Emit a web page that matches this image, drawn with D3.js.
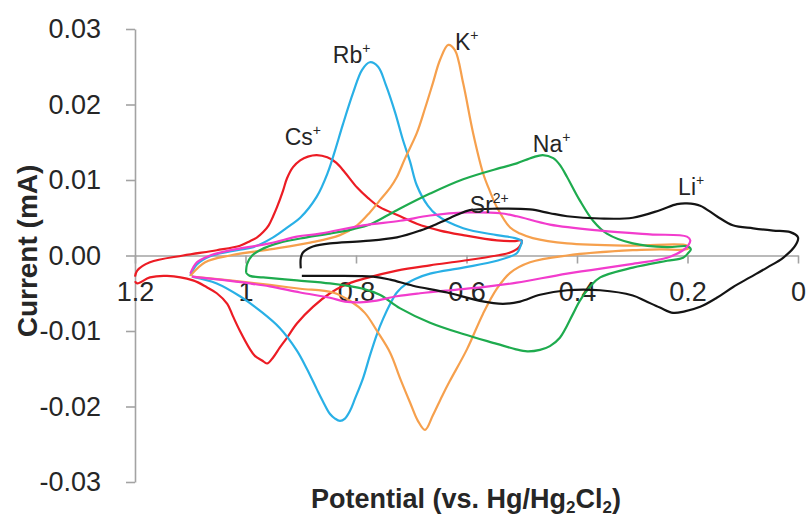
<!DOCTYPE html>
<html>
<head>
<meta charset="utf-8">
<script src="https://cdn.jsdelivr.net/npm/d3@7"></script>
<style>
  html, body { margin: 0; padding: 0; background: #fff; }
  svg { display: block; font-family: "Liberation Sans", Arial, sans-serif; }
</style>
</head>
<body>
<svg id="chart" width="806" height="518"></svg>
<script>
// Cyclic voltammograms, [potential (V vs. Hg/Hg2Cl2), current (mA)] traced around each loop
const cesium = [
  [1.200,-0.0028],[1.196,-0.0020],[1.173,-0.0009],[1.113,0.0000],[1.052,0.0007],[1.010,0.0013],
  [0.992,0.0019],[0.979,0.0024],[0.968,0.0031],[0.958,0.0040],[0.950,0.0052],[0.943,0.0064],
  [0.932,0.0086],[0.925,0.0102],[0.914,0.0117],[0.901,0.0126],[0.887,0.0131],[0.871,0.0133],
  [0.852,0.0130],[0.836,0.0123],[0.820,0.0110],[0.798,0.0090],[0.778,0.0076],[0.757,0.0064],
  [0.720,0.0052],[0.690,0.0042],[0.648,0.0033],[0.606,0.0027],[0.545,0.0020],[0.512,0.0019],
  [0.500,0.0020],[0.505,0.0011],[0.521,0.0004],[0.545,0.0000],[0.606,-0.0007],[0.666,-0.0013],
  [0.726,-0.0020],[0.787,-0.0031],[0.820,-0.0039],[0.847,-0.0050],[0.878,-0.0068],[0.907,-0.0090],
  [0.925,-0.0109],[0.938,-0.0122],[0.950,-0.0135],[0.961,-0.0143],[0.970,-0.0139],[0.983,-0.0133],
  [0.992,-0.0124],[1.010,-0.0100],[1.023,-0.0080],[1.033,-0.0064],[1.052,-0.0050],[1.070,-0.0042],
  [1.095,-0.0033],[1.142,-0.0027],[1.173,-0.0029],[1.196,-0.0037],[1.200,-0.0034]
];
const rubidium = [
  [1.100,-0.0027],[1.088,-0.0012],[1.064,-0.0001],[1.015,0.0007],[0.986,0.0011],[0.950,0.0024],
  [0.919,0.0040],[0.901,0.0050],[0.871,0.0078],[0.851,0.0110],[0.838,0.0139],[0.824,0.0173],
  [0.805,0.0216],[0.789,0.0246],[0.775,0.0256],[0.760,0.0250],[0.746,0.0226],[0.729,0.0189],
  [0.715,0.0153],[0.702,0.0124],[0.690,0.0093],[0.670,0.0066],[0.653,0.0053],[0.606,0.0036],
  [0.545,0.0027],[0.512,0.0023],[0.500,0.0019],[0.503,0.0011],[0.509,0.0003],[0.545,-0.0007],
  [0.606,-0.0016],[0.666,-0.0024],[0.693,-0.0031],[0.708,-0.0037],[0.726,-0.0049],[0.738,-0.0064],
  [0.751,-0.0084],[0.762,-0.0104],[0.775,-0.0133],[0.787,-0.0162],[0.802,-0.0190],[0.811,-0.0206],
  [0.820,-0.0216],[0.829,-0.0219],[0.838,-0.0216],[0.847,-0.0210],[0.860,-0.0193],[0.871,-0.0177],
  [0.889,-0.0150],[0.907,-0.0126],[0.938,-0.0096],[0.974,-0.0073],[1.010,-0.0054],[1.052,-0.0037],
  [1.097,-0.0028]
];
const potassium = [
  [1.100,-0.0027],[1.073,-0.0009],[1.028,0.0000],[0.956,0.0008],[0.883,0.0017],[0.829,0.0027],
  [0.798,0.0040],[0.775,0.0057],[0.757,0.0073],[0.738,0.0090],[0.726,0.0104],[0.711,0.0129],
  [0.690,0.0162],[0.675,0.0195],[0.661,0.0228],[0.648,0.0259],[0.633,0.0279],[0.621,0.0272],
  [0.606,0.0228],[0.588,0.0162],[0.570,0.0109],[0.557,0.0084],[0.545,0.0064],[0.521,0.0037],
  [0.503,0.0029],[0.480,0.0023],[0.418,0.0016],[0.299,0.0013],[0.201,0.0013],[0.199,0.0009],
  [0.250,0.0008],[0.299,0.0007],[0.418,0.0000],[0.485,-0.0009],[0.521,-0.0023],[0.545,-0.0044],
  [0.570,-0.0077],[0.599,-0.0124],[0.630,-0.0166],[0.644,-0.0186],[0.661,-0.0212],[0.675,-0.0231],
  [0.688,-0.0219],[0.702,-0.0195],[0.720,-0.0163],[0.738,-0.0129],[0.762,-0.0100],[0.784,-0.0076],
  [0.811,-0.0060],[0.842,-0.0049],[0.901,-0.0044],[0.956,-0.0039],[1.028,-0.0033],[1.097,-0.0028]
];
const sodium = [
  [0.999,-0.0023],[0.997,-0.0011],[0.988,0.0000],[0.974,0.0007],[0.938,0.0017],[0.889,0.0024],
  [0.847,0.0029],[0.805,0.0035],[0.775,0.0041],[0.726,0.0060],[0.666,0.0082],[0.606,0.0101],
  [0.539,0.0116],[0.509,0.0122],[0.480,0.0130],[0.462,0.0133],[0.443,0.0129],[0.431,0.0120],
  [0.418,0.0104],[0.395,0.0073],[0.371,0.0046],[0.346,0.0029],[0.299,0.0016],[0.237,0.0011],
  [0.199,0.0012],[0.194,0.0008],[0.199,0.0003],[0.208,-0.0003],[0.237,-0.0007],[0.299,-0.0016],
  [0.358,-0.0029],[0.376,-0.0041],[0.395,-0.0060],[0.407,-0.0077],[0.431,-0.0109],[0.449,-0.0120],
  [0.467,-0.0125],[0.490,-0.0127],[0.512,-0.0124],[0.545,-0.0117],[0.606,-0.0104],[0.666,-0.0089],
  [0.720,-0.0070],[0.757,-0.0052],[0.787,-0.0044],[0.847,-0.0037],[0.907,-0.0033],[0.968,-0.0029],
  [0.992,-0.0027],[0.999,-0.0023]
];
const strontium = [
  [1.100,-0.0024],[1.088,-0.0009],[1.064,0.0000],[1.028,0.0007],[0.956,0.0016],[0.907,0.0025],
  [0.865,0.0029],[0.787,0.0040],[0.720,0.0046],[0.666,0.0053],[0.599,0.0057],[0.539,0.0056],
  [0.509,0.0052],[0.449,0.0041],[0.358,0.0033],[0.268,0.0028],[0.201,0.0025],[0.195,0.0020],
  [0.199,0.0013],[0.208,0.0007],[0.237,-0.0003],[0.299,-0.0011],[0.418,-0.0024],[0.509,-0.0036],
  [0.570,-0.0042],[0.630,-0.0046],[0.684,-0.0050],[0.726,-0.0054],[0.766,-0.0060],[0.793,-0.0062],
  [0.820,-0.0061],[0.847,-0.0056],[0.901,-0.0049],[0.956,-0.0041],[0.992,-0.0037],[1.046,-0.0032],
  [1.097,-0.0028]
];
const lithium = [
  [0.900,-0.0017],[0.900,-0.0004],[0.896,0.0004],[0.887,0.0009],[0.878,0.0012],[0.847,0.0016],
  [0.787,0.0019],[0.726,0.0024],[0.684,0.0033],[0.653,0.0042],[0.617,0.0054],[0.594,0.0060],
  [0.545,0.0062],[0.485,0.0061],[0.449,0.0056],[0.418,0.0052],[0.358,0.0049],[0.299,0.0050],
  [0.250,0.0060],[0.219,0.0068],[0.201,0.0069],[0.177,0.0066],[0.147,0.0052],[0.118,0.0040],
  [0.081,0.0036],[0.045,0.0033],[0.014,0.0031],[0.000,0.0024],[0.005,0.0013],[0.027,-0.0003],
  [0.056,-0.0016],[0.087,-0.0029],[0.118,-0.0042],[0.147,-0.0056],[0.177,-0.0068],[0.205,-0.0074],
  [0.226,-0.0076],[0.250,-0.0069],[0.277,-0.0060],[0.299,-0.0053],[0.358,-0.0046],[0.418,-0.0046],
  [0.467,-0.0052],[0.503,-0.0061],[0.534,-0.0064],[0.576,-0.0060],[0.635,-0.0049],[0.697,-0.0040],
  [0.738,-0.0032],[0.769,-0.0028],[0.847,-0.0027],[0.898,-0.0027]
];

const seriesNames  = ["Cs", "Rb", "K", "Na", "Sr", "Li"];
const seriesColors = ["#ec1c24", "#29b0e6", "#f6a04d", "#1eab4e", "#f23ccd", "#141414"];
const seriesData   = [cesium, rubidium, potassium, sodium, strontium, lithium];

// Ion labels: [base text, superscript, potential, current] of each label's baseline start
const ionLabels = [
  ["Cs", "+", 0.929, 0.0146],
  ["Rb", "+", 0.842, 0.0255],
  ["K",  "+", 0.621, 0.0272],
  ["Na", "+", 0.480, 0.0137],
  ["Li", "+", 0.217, 0.0080],
  ["Sr", "2+", 0.594, 0.0056]
];

const xTicks = [1.2, 1, 0.8, 0.6, 0.4, 0.2, 0];
const yTicks = [-0.03, -0.02, -0.01, 0, 0.01, 0.02, 0.03];

const svg = d3.select("#chart");
const x = d3.scaleLinear().domain([1.2, 0]).range([135, 798]);
const y = d3.scaleLinear().domain([-0.03, 0.03]).range([482, 29]);

const axisColor = "#a3a3a3";
const textColor = "#262626";

// Y axis
const gy = svg.append("g")
  .attr("transform", "translate(135,0)")
  .call(d3.axisLeft(y).tickValues(yTicks).tickSize(9).tickSizeOuter(0).tickPadding(25)
    .tickFormat(d => d.toFixed(2)));

// X axis along the zero-current line
const gx = svg.append("g")
  .attr("transform", `translate(0,${y(0)})`)
  .call(d3.axisBottom(x).tickValues(xTicks).tickSize(8).tickSizeOuter(0).tickPadding(18)
    .tickFormat(d => String(d)));

[gx, gy].forEach(g => {
  g.select(".domain").attr("stroke", axisColor).attr("stroke-width", 1.6);
  g.selectAll(".tick line").attr("stroke", axisColor).attr("stroke-width", 1.6);
  g.selectAll(".tick text")
    .attr("fill", textColor)
    .style("font-size", "27px")
    .style("font-family", '"Liberation Sans", Arial, sans-serif');
});

// Axis titles
svg.append("text")
  .attr("transform", "translate(37,251) rotate(-90)")
  .attr("text-anchor", "middle")
  .attr("fill", textColor)
  .style("font-size", "28px").style("font-weight", "bold")
  .text("Current (mA)");

const xt = svg.append("text")
  .attr("x", 466).attr("y", 508)
  .attr("text-anchor", "middle")
  .attr("fill", textColor)
  .style("font-size", "27px").style("font-weight", "bold");
xt.append("tspan").text("Potential (vs. Hg/Hg");
xt.append("tspan").attr("dy", 5).style("font-size", "17px").text("2");
xt.append("tspan").attr("dy", -5).text("Cl");
xt.append("tspan").attr("dy", 5).style("font-size", "17px").text("2");
xt.append("tspan").attr("dy", -5).text(")");

// Voltammogram loops
const line = d3.line()
  .x(d => x(d[0]))
  .y(d => y(d[1]))
  .curve(d3.curveCatmullRom.alpha(0.5));

svg.append("g").selectAll("path")
  .data(seriesData)
  .join("path")
  .attr("d", line)
  .attr("fill", "none")
  .attr("stroke", (d, i) => seriesColors[i])
  .attr("stroke-width", 2.2)
  .attr("stroke-linejoin", "round");

// Ion labels
const lab = svg.append("g").selectAll("text")
  .data(ionLabels)
  .join("text")
  .attr("x", d => x(d[2]))
  .attr("y", d => y(d[3]))
  .attr("fill", textColor)
  .style("font-size", "23px");
lab.append("tspan").text(d => d[0]);
lab.append("tspan").attr("dy", -10).style("font-size", "14px").text(d => d[1]);
</script>
</body>
</html>
